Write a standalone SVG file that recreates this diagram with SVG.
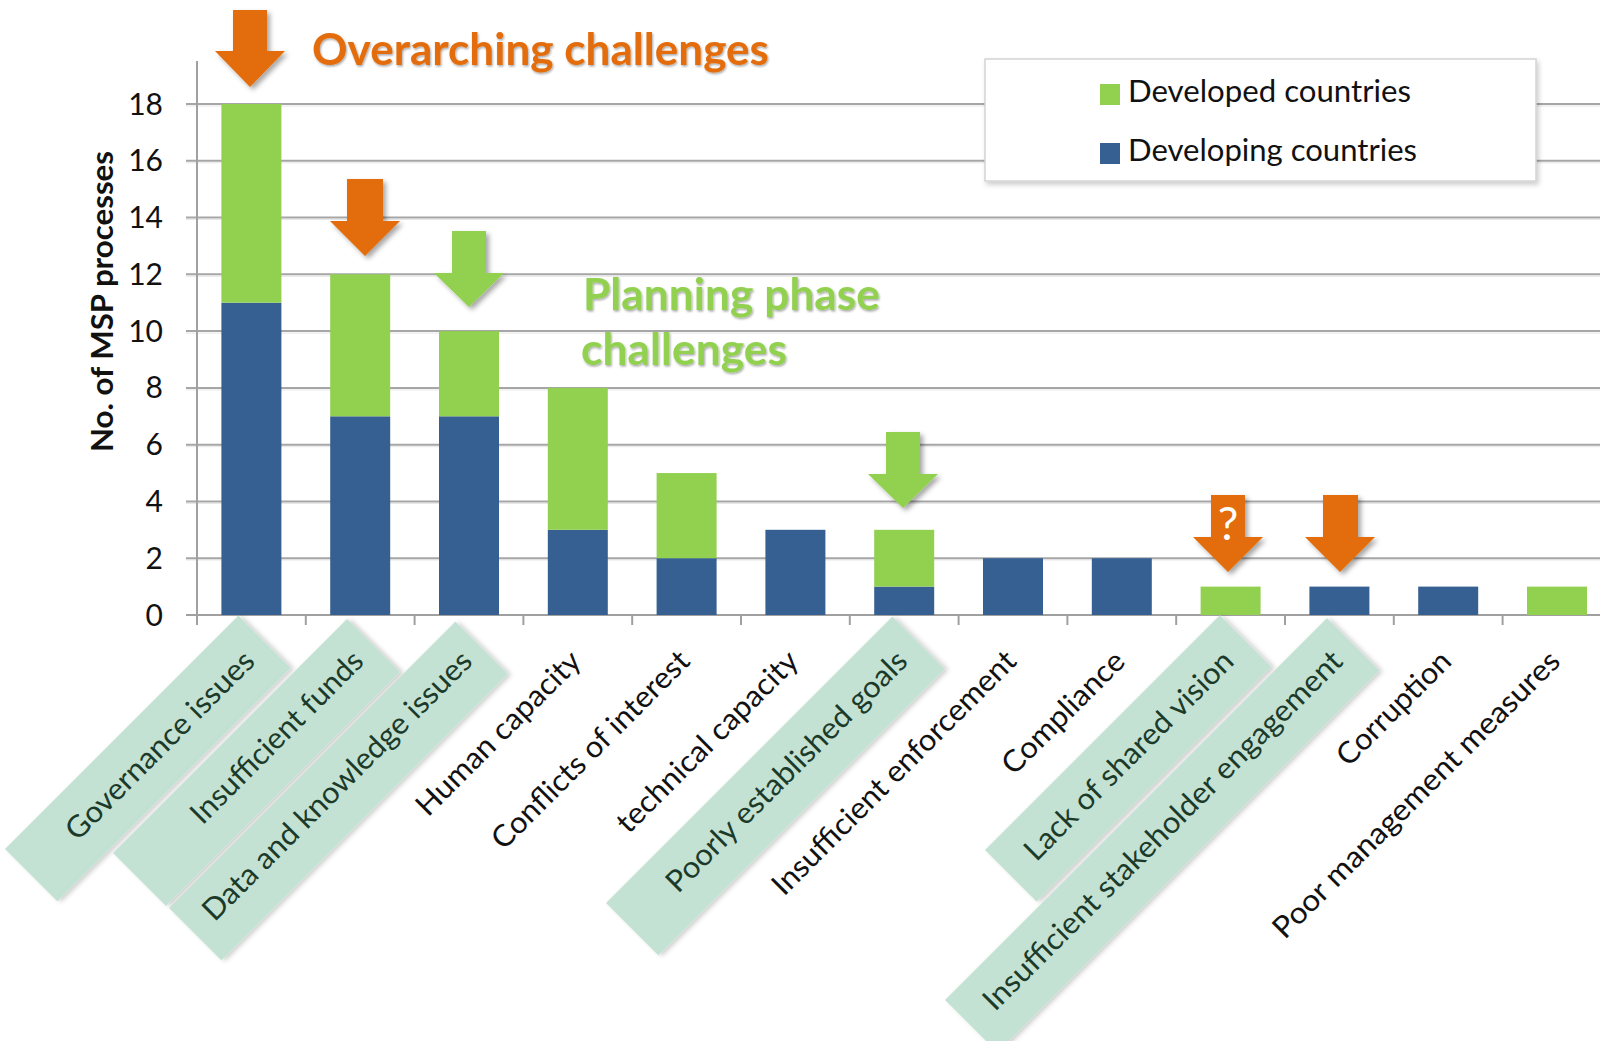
<svg xmlns="http://www.w3.org/2000/svg" width="1600" height="1041" viewBox="0 0 1600 1041">
<defs>
<style>
.grid{stroke:#a6a6a6;stroke-width:2;fill:none}
.gridsh{stroke:#e6e6e6;stroke-width:1;fill:none}
.axis{stroke:#a0a0a0;stroke-width:2;fill:none}
.blue{fill:#376092}
.green{fill:#92d050}
.orange{fill:#e36c09}
.tick{font-family:Lato,"Open Sans","Liberation Sans",sans-serif;font-size:30px;fill:#111;text-anchor:end}
.lbl{font-family:Lato,"Open Sans","Liberation Sans",sans-serif;font-size:30px;fill:#111;text-anchor:end}
.lblh{fill:#1c3a2a}
.band{fill:#c3e2d3}
.leg{font-family:Lato,"Open Sans","Liberation Sans",sans-serif;font-size:30px;fill:#111}
.ttl{font-family:Lato,"Open Sans","Liberation Sans",sans-serif;font-weight:bold;font-size:43px}
.ytitle{font-family:Lato,"Open Sans","Liberation Sans",sans-serif;font-weight:bold;font-size:30.5px;fill:#111;text-anchor:middle}
</style>
<filter id="sh" x="-30%" y="-30%" width="160%" height="160%">
<feDropShadow dx="3" dy="3" stdDeviation="2.5" flood-color="#000" flood-opacity="0.35"/>
</filter>
<filter id="bsh" x="-10%" y="-10%" width="120%" height="120%">
<feDropShadow dx="2" dy="3" stdDeviation="2.5" flood-color="#000" flood-opacity="0.2"/>
</filter>
<filter id="tsh" x="-5%" y="-20%" width="110%" height="140%">
<feDropShadow dx="1" dy="1.5" stdDeviation="1" flood-color="#000" flood-opacity="0.35"/>
</filter>
</defs>
<rect width="1600" height="1041" fill="#fff"/>

<g id="gridlines">
<line class="gridsh" x1="186" y1="560" x2="1600" y2="560"/>
<line class="gridsh" x1="186" y1="503.4" x2="1600" y2="503.4"/>
<line class="gridsh" x1="186" y1="446.7" x2="1600" y2="446.7"/>
<line class="gridsh" x1="186" y1="389.9" x2="1600" y2="389.9"/>
<line class="gridsh" x1="186" y1="333.1" x2="1600" y2="333.1"/>
<line class="gridsh" x1="186" y1="276.3" x2="1600" y2="276.3"/>
<line class="gridsh" x1="186" y1="219.5" x2="1600" y2="219.5"/>
<line class="gridsh" x1="186" y1="162.8" x2="1600" y2="162.8"/>
<line class="gridsh" x1="186" y1="106" x2="1600" y2="106"/>
<line class="grid" x1="186" y1="558.2" x2="1600" y2="558.2"/>
<line class="grid" x1="186" y1="501.4" x2="1600" y2="501.4"/>
<line class="grid" x1="186" y1="444.7" x2="1600" y2="444.7"/>
<line class="grid" x1="186" y1="387.9" x2="1600" y2="387.9"/>
<line class="grid" x1="186" y1="331.1" x2="1600" y2="331.1"/>
<line class="grid" x1="186" y1="274.3" x2="1600" y2="274.3"/>
<line class="grid" x1="186" y1="217.5" x2="1600" y2="217.5"/>
<line class="grid" x1="186" y1="160.8" x2="1600" y2="160.8"/>
<line class="grid" x1="186" y1="104" x2="1600" y2="104"/>
</g>

<g id="axes">
<line class="axis" x1="197" y1="61" x2="197" y2="625"/>
<line class="axis" x1="186" y1="615" x2="1600" y2="615"/>
<path class="axis" d="M305.8 615V625M414.6 615V625M523.4 615V625M632.2 615V625M741 615V625M849.8 615V625M958.6 615V625M1067.4 615V625M1176.2 615V625M1285 615V625M1393.8 615V625M1502.6 615V625"/>
<text class="tick" x="163" y="625.5">0</text>
<text class="tick" x="163" y="568.7">2</text>
<text class="tick" x="163" y="511.9">4</text>
<text class="tick" x="163" y="455.2">6</text>
<text class="tick" x="163" y="398.4">8</text>
<text class="tick" x="163" y="341.6">10</text>
<text class="tick" x="163" y="284.8">12</text>
<text class="tick" x="163" y="228">14</text>
<text class="tick" x="163" y="171.3">16</text>
<text class="tick" x="163" y="114.5">18</text>
<text class="ytitle" transform="translate(113,301.5) rotate(-90)" textLength="301" lengthAdjust="spacingAndGlyphs">No. of MSP processes</text>
</g>

<g id="cat-governance">
<rect class="blue" x="221.4" y="302.7" width="60" height="312.3"/>
<rect class="green" x="221.4" y="104" width="60" height="198.7"/>
<rect class="band" filter="url(#bsh)" transform="translate(5,849) rotate(-45)" width="330" height="74"/>
<text class="lbl lblh" transform="translate(256.4,663) rotate(-45)" textLength="253" lengthAdjust="spacingAndGlyphs">Governance issues</text>
</g>
<g id="cat-funds">
<rect class="blue" x="330.2" y="416.3" width="60" height="198.7"/>
<rect class="green" x="330.2" y="274.3" width="60" height="142"/>
<rect class="band" filter="url(#bsh)" transform="translate(113,853) rotate(-45)" width="331" height="75"/>
<text class="lbl lblh" transform="translate(365.2,663) rotate(-45)" textLength="230" lengthAdjust="spacingAndGlyphs">Insufficient funds</text>
</g>
<g id="cat-data">
<rect class="blue" x="439" y="416.3" width="60" height="198.7"/>
<rect class="green" x="439" y="331.1" width="60" height="85.2"/>
<rect class="band" filter="url(#bsh)" transform="translate(169,908) rotate(-45)" width="405" height="74"/>
<text class="lbl lblh" transform="translate(474,663) rotate(-45)" textLength="367" lengthAdjust="spacingAndGlyphs">Data and knowledge issues</text>
</g>
<g id="cat-human">
<rect class="blue" x="547.8" y="529.8" width="60" height="85.2"/>
<rect class="green" x="547.8" y="387.9" width="60" height="141.9"/>
<text class="lbl" transform="translate(582.8,663) rotate(-45)" textLength="219" lengthAdjust="spacingAndGlyphs">Human capacity</text>
</g>
<g id="cat-conflicts">
<rect class="blue" x="656.6" y="558.2" width="60" height="56.8"/>
<rect class="green" x="656.6" y="473.05" width="60" height="85.15"/>
<text class="lbl" transform="translate(691.6,663) rotate(-45)" textLength="266" lengthAdjust="spacingAndGlyphs">Conflicts of interest</text>
</g>
<g id="cat-technical">
<rect class="blue" x="765.4" y="529.8" width="60" height="85.2"/>
<text class="lbl" transform="translate(800.4,663) rotate(-45)" textLength="243" lengthAdjust="spacingAndGlyphs">technical capacity</text>
</g>
<g id="cat-goals">
<rect class="blue" x="874.2" y="586.6" width="60" height="28.4"/>
<rect class="green" x="874.2" y="529.8" width="60" height="56.8"/>
<rect class="band" filter="url(#bsh)" transform="translate(606,903) rotate(-45)" width="405" height="74"/>
<text class="lbl lblh" transform="translate(909.2,663) rotate(-45)" textLength="327" lengthAdjust="spacingAndGlyphs">Poorly established goals</text>
</g>
<g id="cat-enforcement">
<rect class="blue" x="983" y="558.2" width="60" height="56.8"/>
<text class="lbl" transform="translate(1018,663) rotate(-45)" textLength="331" lengthAdjust="spacingAndGlyphs">Insufficient enforcement</text>
</g>
<g id="cat-compliance">
<rect class="blue" x="1091.8" y="558.2" width="60" height="56.8"/>
<text class="lbl" transform="translate(1126.8,663) rotate(-45)" textLength="160" lengthAdjust="spacingAndGlyphs">Compliance</text>
</g>
<g id="cat-vision">
<rect class="green" x="1200.6" y="586.6" width="60" height="28.4"/>
<rect class="band" filter="url(#bsh)" transform="translate(985,850) rotate(-45)" width="332" height="73"/>
<text class="lbl lblh" transform="translate(1235.6,663) rotate(-45)" textLength="282" lengthAdjust="spacingAndGlyphs">Lack of shared vision</text>
</g>
<g id="cat-stakeholder">
<rect class="blue" x="1309.4" y="586.6" width="60" height="28.4"/>
<rect class="band" filter="url(#bsh)" transform="translate(945,1000) rotate(-45)" width="540" height="74"/>
<text class="lbl lblh" transform="translate(1344.4,663) rotate(-45)" textLength="494" lengthAdjust="spacingAndGlyphs">Insufficient stakeholder engagement</text>
</g>
<g id="cat-corruption">
<rect class="blue" x="1418.2" y="586.6" width="60" height="28.4"/>
<text class="lbl" transform="translate(1453.2,663) rotate(-45)" textLength="148" lengthAdjust="spacingAndGlyphs">Corruption</text>
</g>
<g id="cat-management">
<rect class="green" x="1527" y="586.6" width="60" height="28.4"/>
<text class="lbl" transform="translate(1562,663) rotate(-45)" textLength="392" lengthAdjust="spacingAndGlyphs">Poor management measures</text>
</g>

<g id="legend">
<rect x="985" y="59" width="551" height="122" fill="#fff" stroke="#d4d4d4" stroke-width="1.5" filter="url(#bsh)"/>
<rect class="green" x="1100" y="84" width="20" height="21"/>
<text class="leg" x="1128" y="102" textLength="283" lengthAdjust="spacingAndGlyphs">Developed countries</text>
<rect class="blue" x="1100" y="143" width="20" height="21"/>
<text class="leg" x="1128" y="161" textLength="289" lengthAdjust="spacingAndGlyphs">Developing countries</text>
</g>

<g id="arrows" filter="url(#sh)">
<polygon class="orange" points="233,10 267,10 267,51 285,51 250,87 215,51 233,51"/>
<polygon class="orange" points="347,179 383,179 383,221 400,221 365,256 330,221 347,221"/>
<polygon class="green" points="452,231 486,231 486,273 504,273 469,307 434,273 452,273"/>
<polygon class="green" points="886,432 920,432 920,474 938,474 903,508 868,474 886,474"/>
<polygon class="orange" points="1211,495 1245,495 1245,537 1263,537 1228,572 1193,537 1211,537"/>
<polygon class="orange" points="1323,495 1358,495 1358,537 1375,537 1340,572 1305,537 1323,537"/>
</g>
<text x="1228" y="540" font-family="Lato,'Open Sans',sans-serif" font-size="46" fill="#fff" text-anchor="middle">?</text>

<g id="titles" filter="url(#tsh)">
<text class="ttl" x="312" y="65" fill="#e36c09" textLength="457" lengthAdjust="spacingAndGlyphs">Overarching challenges</text>
<text class="ttl" x="583" y="310" fill="#92d050" textLength="297" lengthAdjust="spacingAndGlyphs">Planning phase</text>
<text class="ttl" x="581" y="365" fill="#92d050" textLength="206" lengthAdjust="spacingAndGlyphs">challenges</text>
</g>
</svg>
